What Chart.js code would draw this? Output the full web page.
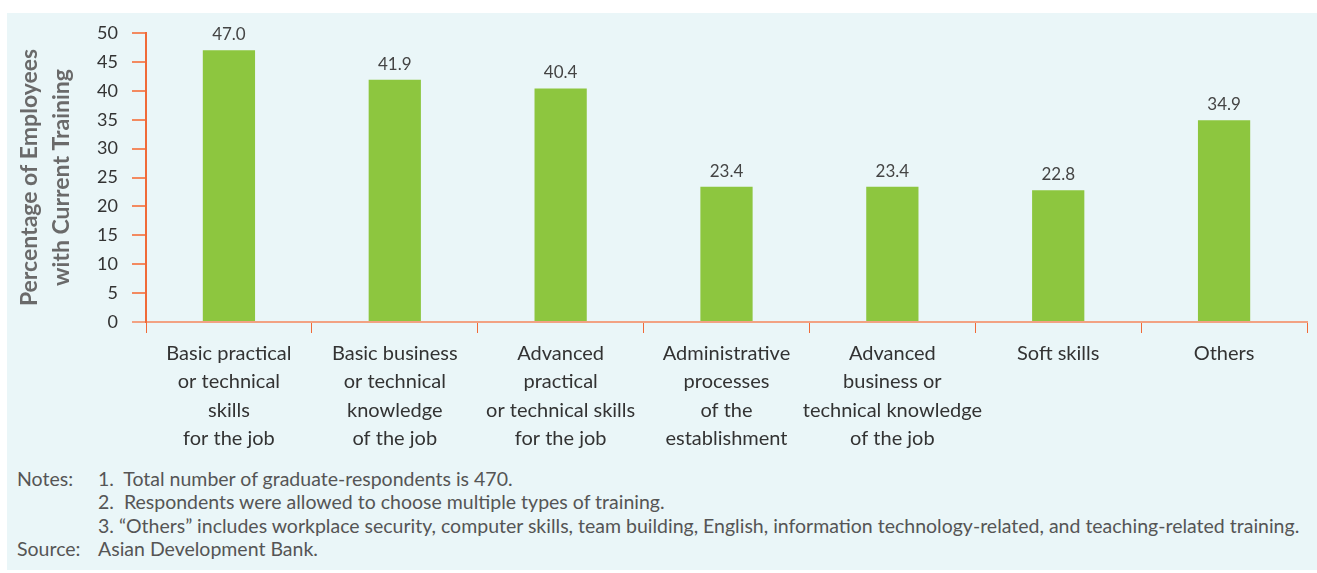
<!DOCTYPE html>
<html>
<head>
<meta charset="utf-8">
<script src="https://cdn.jsdelivr.net/npm/chart.js@4.4.1/dist/chart.umd.min.js"></script>
<style>
  body { margin: 0; background: #fff; }
  #wrap { position: relative; width: 1317px; height: 573px; overflow: hidden; font-family: Lato, sans-serif; }
  #panel { position: absolute; left: 7px; top: 13px; width: 1310px; height: 557px; background: #eaf6f8; }
  #chart { position: absolute; left: 0; top: 0; }
  .note { position: absolute; font-size: 19.5px; color: #555; white-space: nowrap; line-height: 20px; }
</style>
</head>
<body>
<div id="wrap">
  <div id="panel"></div>
  <canvas id="chart" width="1317" height="460"></canvas>
  <div class="note" style="left:17px; top:469px;">Notes:</div>
  <div class="note" style="left:98px; top:469px;">1.&nbsp; Total number of graduate-respondents is 470.</div>
  <div class="note" style="left:98px; top:492px;">2.&nbsp; Respondents were allowed to choose multiple types of training.</div>
  <div class="note" style="left:98px; top:516px;">3.&nbsp;“Others” includes workplace security, computer skills, team building, English, information technology-related, and teaching-related training.</div>
  <div class="note" style="left:17px; top:539px;">Source:</div>
  <div class="note" style="left:98px; top:539px;">Asian Development Bank.</div>
</div>
<script>
// categories (multi-line labels as printed under the bars)
const categories = [
  ['Basic practical', 'or technical', 'skills', 'for the job'],
  ['Basic business', 'or technical', 'knowledge', 'of the job'],
  ['Advanced', 'practical', 'or technical skills', 'for the job'],
  ['Administrative', 'processes', 'of the', 'establishment'],
  ['Advanced', 'business or', 'technical knowledge', 'of the job'],
  ['Soft skills'],
  ['Others']
];
const shares = [47.0, 41.9, 40.4, 23.4, 23.4, 22.8, 34.9];
const yTitle = ['Percentage of Employees', 'with Current Training'];

const ORANGE = '#f06a38';
const SALMON = '#f2a283';

// value labels above each bar
const barValues = {
  id: 'barValues',
  afterDatasetsDraw(chart) {
    const ctx = chart.ctx;
    const meta = chart.getDatasetMeta(0);
    ctx.save();
    ctx.font = '17px Lato';
    ctx.fillStyle = '#444';
    ctx.textAlign = 'center';
    ctx.textBaseline = 'bottom';
    meta.data.forEach((bar, i) => {
      ctx.fillText(shares[i].toFixed(1), bar.x, bar.y - 7);
    });
    ctx.restore();
  }
};

new Chart(document.getElementById('chart').getContext('2d'), {
  type: 'bar',
  data: {
    labels: categories,
    datasets: [{
      data: shares,
      backgroundColor: '#8dc63f',
      categoryPercentage: 0.35,
      barPercentage: 0.9
    }]
  },
  options: {
    responsive: false,
    animation: false,
    layout: { padding: { top: 33, right: 10, left: 0, bottom: 0 } },
    plugins: {
      legend: { display: false },
      tooltip: { enabled: false }
    },
    scales: {
      x: {
        afterFit: s => { s.height = 138; },
        border: { display: true, color: SALMON, width: 2 },
        grid: { drawOnChartArea: false, drawTicks: true, tickLength: 11, color: ORANGE, lineWidth: 1 },
        ticks: {
          autoSkip: false, maxRotation: 0, minRotation: 0, padding: 6,
          color: '#333', font: { family: 'Lato', size: 20, lineHeight: 1.425 }
        }
      },
      y: {
        min: 0, max: 50,
        afterFit: s => { s.width = 146; },
        border: { display: true, color: ORANGE, width: 2 },
        grid: {
          drawOnChartArea: false, drawTicks: true, tickLength: 14, lineWidth: 2,
          color: c => c.tick && c.tick.value === 0 ? SALMON : '#f38a60'
        },
        ticks: {
          stepSize: 5, padding: 14, color: '#333',
          font: { family: 'Lato', size: 18 }
        },
        title: {
          display: true, text: yTitle, color: '#6a6a6a',
          font: { family: 'Lato', size: 23, weight: 'bold', lineHeight: 1.4 },
          padding: { top: 13, bottom: 0 }
        }
      }
    }
  },
  plugins: [barValues]
});
</script>
</body>
</html>
